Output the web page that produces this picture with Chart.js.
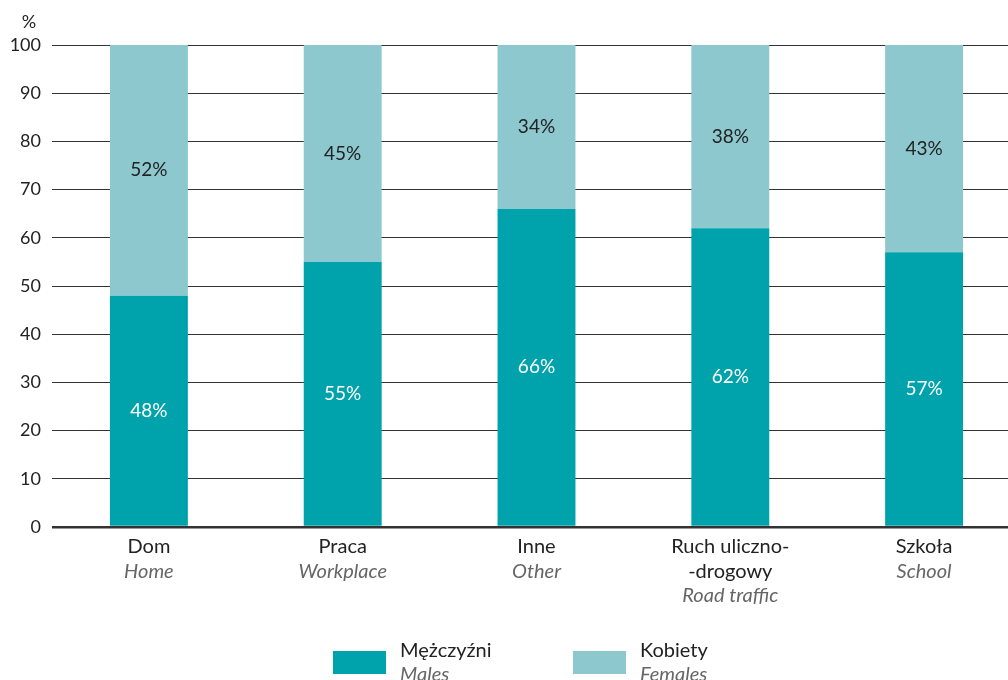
<!DOCTYPE html>
<html>
<head>
<meta charset="utf-8">
<script src="https://cdn.jsdelivr.net/npm/chart.js@4"></script>
<style>
  html, body { margin: 0; padding: 0; background: #fff; overflow: hidden; }
  #wrap { width: 1008px; height: 680px; overflow: hidden; }
</style>
</head>
<body>
<div id="wrap"><canvas id="myChart" width="1024" height="680"></canvas></div>
<script>
const categories = ["Dom", "Praca", "Inne", "Ruch uliczno-|-drogowy", "Szkoła"];
const categoriesEn = ["Home", "Workplace", "Other", "Road traffic", "School"];
const males = [48, 55, 66, 62, 57];
const females = [52, 45, 34, 38, 43];
const yTicks = [0, 10, 20, 30, 40, 50, 60, 70, 80, 90, 100];

const FONT = "Lato, 'Open Sans', sans-serif";
const DARK = "#00a3ab";
const LIGHT = "#8cc8ce";

const extras = {
  id: "extras",
  afterDatasetsDraw(chart) {
    const ctx = chart.ctx;
    const x = chart.scales.x;
    const y = chart.scales.y;
    ctx.save();
    ctx.textAlign = "center";
    ctx.textBaseline = "middle";
    ctx.font = "19px " + FONT;
    // value labels
    chart.data.datasets.forEach((ds, di) => {
      const meta = chart.getDatasetMeta(di);
      meta.data.forEach((bar, i) => {
        const mid = (bar.y + bar.base) / 2;
        ctx.fillStyle = di === 0 ? "#ffffff" : "#222222";
        ctx.fillText(ds.data[i] + "%", bar.x, mid);
      });
    });
    // category labels
    categories.forEach((c, i) => {
      const cx = x.getPixelForValue(i);
      const lines = c.split("|");
      let ly = y.bottom + 20;
      ctx.fillStyle = "#222";
      ctx.font = "20px " + FONT;
      lines.forEach((l) => { ctx.fillText(l, cx, ly); ly += 24.5; });
      ctx.fillStyle = "#666";
      ctx.font = "italic 20px " + FONT;
      ctx.fillText(categoriesEn[i], cx, ly);
    });
    // % unit
    ctx.fillStyle = "#222";
    ctx.font = "18px " + FONT;
    ctx.fillText("%", 29, 22);
    // legend
    const items = [
      { c: DARK, pl: "Mężczyźni", en: "Males", x: 333 },
      { c: LIGHT, pl: "Kobiety", en: "Females", x: 573 },
    ];
    ctx.textAlign = "left";
    items.forEach((it) => {
      ctx.fillStyle = it.c;
      ctx.fillRect(it.x, 651, 53, 23);
      ctx.fillStyle = "#222";
      ctx.font = "20px " + FONT;
      ctx.fillText(it.pl, it.x + 67, 651);
      ctx.fillStyle = "#666";
      ctx.font = "italic 20px " + FONT;
      ctx.fillText(it.en, it.x + 67, 675);
    });
    ctx.restore();
  },
};

new Chart(document.getElementById("myChart"), {
  type: "bar",
  data: {
    labels: categories,
    datasets: [
      { label: "Mężczyźni", data: males, backgroundColor: DARK },
      { label: "Kobiety", data: females, backgroundColor: LIGHT },
    ],
  },
  options: {
    responsive: false,
    animation: false,
    layout: { padding: { top: 45, bottom: 153, right: 3, left: 0 } },
    datasets: { bar: { categoryPercentage: 1, barPercentage: 78 / 194 } },
    plugins: { legend: { display: false }, tooltip: { enabled: false } },
    scales: {
      x: {
        stacked: true,
        offset: true,
        grid: { display: false },
        border: { display: false },
        ticks: { display: false },
        afterFit: (s) => { s.height = 0; },
      },
      y: {
        stacked: true,
        min: 0,
        max: 100,
        afterBuildTicks: (s) => { s.ticks = yTicks.map((v) => ({ value: v })); },
        afterFit: (s) => { s.width = 52; },
        border: { display: false },
        grid: {
          drawTicks: false,
          color: "#333",
          lineWidth: (c) => (c.tick && c.tick.value === 0 ? 2.5 : 1),
        },
        ticks: {
          padding: 11,
          color: "#222",
          font: { family: FONT, size: 18 },
        },
      },
    },
  },
  plugins: [extras],
});
</script>
</body>
</html>
